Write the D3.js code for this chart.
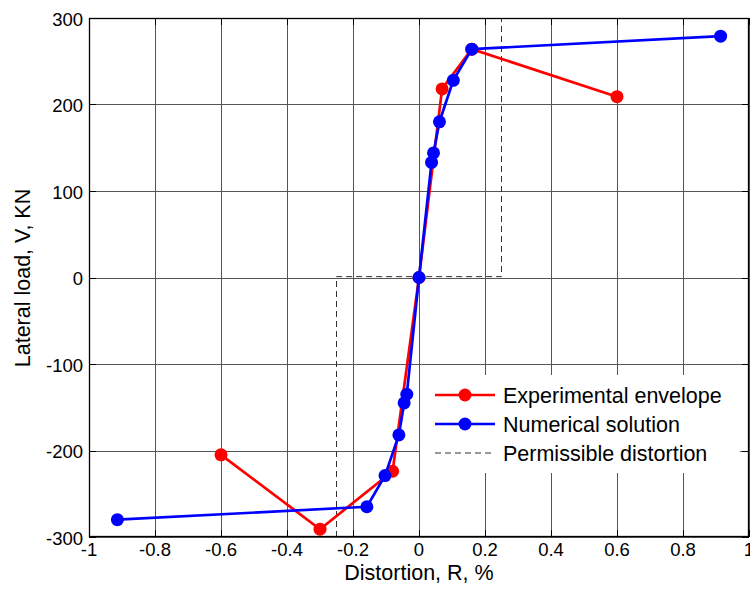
<!DOCTYPE html>
<html><head><meta charset="utf-8">
<script src="https://cdn.jsdelivr.net/npm/d3@7/dist/d3.min.js"></script>
<style>
body{margin:0;background:#fff;}
text{font-family:"Liberation Sans",Arial,Helvetica,sans-serif;fill:#000;}
</style>
</head><body>
<svg id="chart" width="750" height="595"></svg>
<script>
// ---- data ----
const xTicks = [-1, -0.8, -0.6, -0.4, -0.2, 0, 0.2, 0.4, 0.6, 0.8, 1];
const xTickLabels = ["-1", "-0.8", "-0.6", "-0.4", "-0.2", "0", "0.2", "0.4", "0.6", "0.8", "1"];
const yTicks = [-300, -200, -100, 0, 100, 200, 300];
const yTickLabels = ["-300", "-200", "-100", "0", "100", "200", "300"];

const expX = [-0.6, -0.3, -0.08, 0, 0.07, 0.16, 0.6];
const expY = [-205, -291, -224, 0, 218, 264, 209];

const numX = [-0.914, -0.158, -0.103, -0.061, -0.045, -0.037, 0, 0.038, 0.044, 0.062, 0.104, 0.16, 0.914];
const numY = [-280, -265, -229, -182, -145, -135, 0, 133, 144, 180, 228, 264, 279];

const permX = [-0.25, -0.25, 0.25, 0.25];
const permY = [-300, 1, 1, 300];

const seriesNames = ["Experimental envelope", "Numerical solution", "Permissible distortion"];
const xLabel = "Distortion, R, %";
const yLabel = "Lateral load, V, KN";

// ---- layout ----
const L = 89, R = 749, T = 18, B = 537;
const svg = d3.select("#chart");
const x = d3.scaleLinear().domain([-1, 1]).range([L, R]);
const y = d3.scaleLinear().domain([-300, 300]).range([B, T]);

// grid
const grid = svg.append("g");
grid.selectAll("line.vx").data(xTicks).enter().append("line")
  .attr("x1", d => Math.round(x(d)) + 0.5).attr("x2", d => Math.round(x(d)) + 0.5)
  .attr("y1", T).attr("y2", B).attr("stroke", "#555").attr("stroke-width", 1);
grid.selectAll("line.hy").data(yTicks).enter().append("line")
  .attr("y1", d => Math.round(y(d)) + 0.5).attr("y2", d => Math.round(y(d)) + 0.5)
  .attr("x1", L).attr("x2", R).attr("stroke", "#555").attr("stroke-width", 1);

// permissible distortion (dashed)
const line = d3.line().x(d => x(d[0])).y(d => y(d[1]));
svg.append("path").datum(permX.map((v, i) => [v, permY[i]]))
  .attr("d", line).attr("fill", "none").attr("stroke", "#333")
  .attr("stroke-width", 1).attr("stroke-dasharray", "6,4");

function drawSeries(xs, ys, color) {
  const pts = xs.map((v, i) => [v, ys[i]]);
  const g = svg.append("g");
  g.append("path").datum(pts).attr("d", line).attr("fill", "none")
    .attr("stroke", color).attr("stroke-width", 2.7).attr("stroke-linejoin", "round");
  g.selectAll("circle").data(pts).enter().append("circle")
    .attr("cx", d => x(d[0])).attr("cy", d => y(d[1])).attr("r", 6.5).attr("fill", color);
}
drawSeries(expX, expY, "#ff0000");
drawSeries(numX, numY, "#0000ff");

// legend
const lg = svg.append("g");
lg.append("rect").attr("x", 420).attr("y", 375).attr("width", 320).attr("height", 98).attr("fill", "#fff");
const legendItems = [
  {name: seriesNames[0], color: "#ff0000", dash: null, marker: true},
  {name: seriesNames[1], color: "#0000ff", dash: null, marker: true},
  {name: seriesNames[2], color: "#333", dash: "6,4", marker: false}
];
legendItems.forEach((it, i) => {
  const cy = 395 + i * 29;
  lg.append("line").attr("x1", 435).attr("x2", 495).attr("y1", cy).attr("y2", cy)
    .attr("stroke", it.color).attr("stroke-width", it.marker ? 2.7 : 1)
    .attr("stroke-dasharray", it.dash);
  if (it.marker) lg.append("circle").attr("cx", 465).attr("cy", cy).attr("r", 6.5).attr("fill", it.color);
  lg.append("text").attr("x", 503).attr("y", cy + 7.5).attr("font-size", 21.5).text(it.name);
});

// ticks (inward) on all four sides
const tk = svg.append("g").attr("stroke", "#000").attr("stroke-width", 1);
xTicks.forEach(d => {
  const xx = Math.round(x(d)) + 0.5;
  tk.append("line").attr("x1", xx).attr("x2", xx).attr("y1", B).attr("y2", B - 7);
  tk.append("line").attr("x1", xx).attr("x2", xx).attr("y1", T).attr("y2", T + 7);
});
yTicks.forEach(d => {
  const yy = Math.round(y(d)) + 0.5;
  tk.append("line").attr("x1", L).attr("x2", L + 7).attr("y1", yy).attr("y2", yy);
  tk.append("line").attr("x1", R).attr("x2", R - 7).attr("y1", yy).attr("y2", yy);
});

// frame
svg.append("rect").attr("x", L + 0.5).attr("y", T + 0.5).attr("width", R - L - 1).attr("height", B - T - 1)
  .attr("fill", "none").attr("stroke", "#000").attr("stroke-width", 1.3);

// tick labels
svg.append("g").selectAll("text").data(xTicks).enter().append("text")
  .attr("x", d => x(d)).attr("y", 556).attr("text-anchor", "middle").attr("font-size", 18.5)
  .text((d, i) => xTickLabels[i]);
svg.append("g").selectAll("text").data(yTicks).enter().append("text")
  .attr("x", 83).attr("y", d => y(d) + 7.5).attr("text-anchor", "end").attr("font-size", 18.5)
  .text((d, i) => yTickLabels[i]);

// axis labels
svg.append("text").attr("x", 419).attr("y", 580).attr("text-anchor", "middle")
  .attr("font-size", 21.5).text(xLabel);
svg.append("text").attr("transform", "translate(30,278) rotate(-90)").attr("text-anchor", "middle")
  .attr("font-size", 21.5).text(yLabel);
</script>
</body></html>
